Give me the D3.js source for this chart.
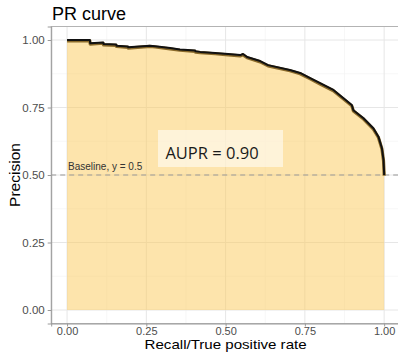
<!DOCTYPE html>
<html><head><meta charset="utf-8">
<script src="https://cdn.jsdelivr.net/npm/d3@7"></script>
<style>body{margin:0;background:#fff;} svg{display:block;font-family:"Liberation Sans",Arial,sans-serif;}</style>
</head><body>
<script>
const recall = [0, 0.072, 0.073, 0.114, 0.115, 0.155, 0.156, 0.192, 0.193, 0.262, 0.278, 0.325, 0.356, 0.404, 0.405, 0.420, 0.467, 0.508, 0.546, 0.555, 0.568, 0.609, 0.634, 0.703, 0.735, 0.767, 0.798, 0.840, 0.872, 0.898, 0.903, 0.935, 0.966, 0.982, 0.993, 0.998, 1.0, 1.0];
const precision = [1.0, 1.0, 0.988, 0.991, 0.985, 0.983, 0.979, 0.976, 0.973, 0.979, 0.977, 0.970, 0.965, 0.961, 0.958, 0.956, 0.952, 0.948, 0.944, 0.948, 0.937, 0.922, 0.907, 0.889, 0.878, 0.859, 0.840, 0.815, 0.784, 0.759, 0.740, 0.710, 0.673, 0.642, 0.599, 0.556, 0.506, 0.5];
const xTicks = [0, 0.25, 0.5, 0.75, 1];
const yTicks = [0, 0.25, 0.5, 0.75, 1];
const tickLabels = ["0.00", "0.25", "0.50", "0.75", "1.00"];
const baseline = 0.5;
const aupr = 0.90;

const W = 398, H = 352;
const svg = d3.select("body").append("svg").attr("width", W).attr("height", H);
const x = d3.scaleLinear().domain([-0.05, 1.05]).range([51.2, 400]);
const y = d3.scaleLinear().domain([-0.05, 1.05]).range([323.5, 26.5]);
const pl = x.range()[0], pr = x.range()[1], pt = y.range()[1], pb = y.range()[0];

const g = svg.append("g");
const minor = [0.125, 0.375, 0.625, 0.875];
g.selectAll(".mx").data(minor).join("line").attr("x1", d => x(d)).attr("x2", d => x(d)).attr("y1", pt).attr("y2", pb).attr("stroke", "#f2f2f2").attr("stroke-width", 0.6);
g.selectAll(".my").data(minor).join("line").attr("y1", d => y(d)).attr("y2", d => y(d)).attr("x1", pl).attr("x2", pr).attr("stroke", "#f2f2f2").attr("stroke-width", 0.6);
g.selectAll(".gx").data(xTicks).join("line").attr("x1", d => x(d)).attr("x2", d => x(d)).attr("y1", pt).attr("y2", pb).attr("stroke", "#e6e6e6").attr("stroke-width", 1);
g.selectAll(".gy").data(yTicks).join("line").attr("y1", d => y(d)).attr("y2", d => y(d)).attr("x1", pl).attr("x2", pr).attr("stroke", "#e6e6e6").attr("stroke-width", 1);

const pts = recall.map((r, i) => [r, precision[i]]);
const area = d3.area().x(d => x(d[0])).y0(y(0)).y1(d => y(d[1]));
g.append("path").datum(pts).attr("d", area).attr("fill", "#fbc95a").attr("fill-opacity", 0.5);

g.append("line").attr("x1", pl).attr("x2", pr).attr("y1", y(baseline)).attr("y2", y(baseline))
  .attr("stroke", "#999").attr("stroke-width", 1).attr("stroke-dasharray", "5,4");
g.append("text").attr("x", x(0) + 1).attr("y", y(baseline) - 5).attr("font-size", 10).attr("fill", "#333").text("Baseline, y = 0.5");

const line = d3.line().x(d => x(d[0])).y(d => y(d[1]));
g.append("path").datum(pts).attr("d", line).attr("fill", "none").attr("stroke", "#8a6a2a").attr("stroke-width", 3.2).attr("stroke-linejoin", "round").attr("transform", "translate(0,0.8)");
g.append("path").datum(pts).attr("d", line).attr("fill", "none").attr("stroke", "#111").attr("stroke-width", 2).attr("stroke-linejoin", "round");

g.append("rect").attr("x", 158).attr("y", 130).attr("width", 125).attr("height", 37).attr("fill", "#fff").attr("fill-opacity", 0.55);
g.append("text").attr("x", 212).attr("y", 159).attr("text-anchor", "middle").attr("font-size", 16.5)
  .attr("font-family", "'Open Sans',sans-serif").attr("fill", "#1a1a1a").text("AUPR = " + aupr.toFixed(2));

g.append("rect").attr("x", pl).attr("y", pt).attr("width", pr - pl).attr("height", pb - pt).attr("fill", "none").attr("stroke", "#b3b3b3").attr("stroke-width", 1);

const xa = svg.append("g").attr("transform", `translate(0,${pb})`).call(d3.axisBottom(x).tickValues(xTicks).tickFormat((d, i) => tickLabels[i]).tickSize(3).tickPadding(0.5));
const ya = svg.append("g").attr("transform", `translate(${pl},0)`).call(d3.axisLeft(y).tickValues(yTicks).tickFormat((d, i) => tickLabels[i]).tickSize(3.5).tickPadding(3));
[xa, ya].forEach(a => {
  a.select(".domain").attr("stroke", "#9a9a9a");
  a.selectAll(".tick line").attr("stroke", "#9a9a9a");
  a.selectAll(".tick text").attr("fill", "#4d4d4d").attr("font-size", 11.5).attr("font-family", "'Liberation Sans',Arial,sans-serif");
});
xa.selectAll(".tick text").attr("font-size", 11);

svg.append("text").attr("x", 52).attr("y", 20).attr("font-size", 18).attr("fill", "#000").text("PR curve");
svg.append("text").attr("x", x(0.5)).attr("y", 349.3).attr("text-anchor", "middle").attr("font-size", 13)
  .attr("textLength", 162).attr("lengthAdjust", "spacingAndGlyphs").attr("fill", "#000").text("Recall/True positive rate");
svg.append("text").attr("transform", `translate(20,${y(0.5)}) rotate(-90)`).attr("text-anchor", "middle").attr("font-size", 15.5).attr("fill", "#000").text("Precision");
</script>
</body></html>
